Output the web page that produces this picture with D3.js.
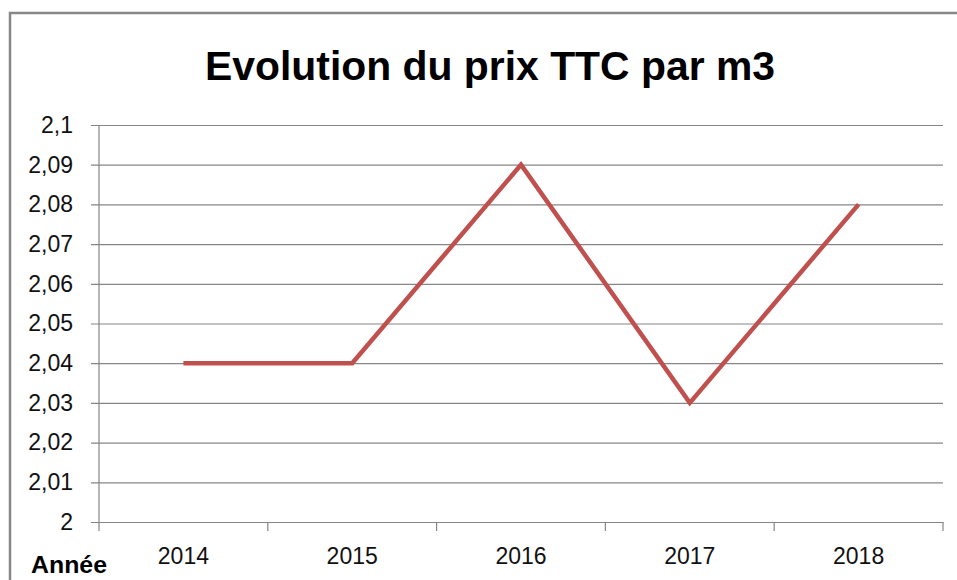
<!DOCTYPE html>
<html>
<head>
<meta charset="utf-8">
<script src="https://cdnjs.cloudflare.com/ajax/libs/d3/7.8.5/d3.min.js"></script>
<style>
  body { margin: 0; background: #fff; }
  svg { display: block; }
</style>
</head>
<body>
<script>
// data
var years = ["2014", "2015", "2016", "2017", "2018"];
var prices = [2.04, 2.04, 2.09, 2.03, 2.08];
var yTicks = [2, 2.01, 2.02, 2.03, 2.04, 2.05, 2.06, 2.07, 2.08, 2.09, 2.1];

var W = 957, H = 580;
var margin = { top: 125, right: 14, bottom: 58, left: 99 };
var width = W - margin.left - margin.right,
  height = H - margin.top - margin.bottom;

var svg = d3.select("body").append("svg")
  .attr("width", W)
  .attr("height", H);

// outer chart border (cut off on the right and bottom like the original)
svg.append("rect")
  .attr("x", 10).attr("y", 13)
  .attr("width", W + 20).attr("height", H + 20)
  .style("fill", "none")
  .style("stroke", "#878787")
  .style("stroke-width", 2.5);

// title
svg.append("text")
  .attr("x", 490).attr("y", 80)
  .attr("text-anchor", "middle")
  .attr("textLength", 570)
  .attr("lengthAdjust", "spacingAndGlyphs")
  .style("font-family", "'Liberation Sans', Arial, sans-serif")
  .style("font-weight", "bold")
  .style("font-size", "41px")
  .style("fill", "#000")
  .text("Evolution du prix TTC par m3");

var g = svg.append("g")
  .attr("transform", "translate(" + margin.left + "," + margin.top + ")");

var x = d3.scaleBand().domain(years).range([0, width]);
var y = d3.scaleLinear().domain([2, 2.1]).range([height, 0]);

var fmt = function (d) { return d3.format("~g")(d).replace(".", ","); };

// gridlines + y axis (gridlines start 8px left of the plot, as tick marks)
var yAxis = d3.axisLeft(y)
  .tickValues(yTicks)
  .tickSize(-(width + 8))
  .tickPadding(18)
  .tickFormat(fmt);

var yG = g.append("g")
  .attr("transform", "translate(-8,0)")
  .call(yAxis);
yG.select(".domain").remove();
yG.selectAll(".tick line")
  .style("stroke", "#868686")
  .style("stroke-width", 1.2);
yG.selectAll(".tick text")
  .style("font-family", "'Liberation Sans', Arial, sans-serif")
  .style("font-size", "23px")
  .style("fill", "#111");

// vertical axis line
g.append("line")
  .attr("x1", 0).attr("x2", 0)
  .attr("y1", 0).attr("y2", height)
  .style("stroke", "#868686")
  .style("stroke-width", 1.2);

// x axis with ticks between categories
var xAxis = d3.axisBottom(x).tickSize(0).tickPadding(26);
var xG = g.append("g")
  .attr("transform", "translate(0," + height + ")")
  .call(xAxis);
xG.select(".domain")
  .style("stroke", "#868686")
  .style("stroke-width", 1.2);
xG.selectAll(".tick text")
  .style("font-family", "'Liberation Sans', Arial, sans-serif")
  .style("font-size", "23px")
  .style("fill", "#111");

var bounds = years.map(function (d) { return x(d); }).concat([width]);
xG.selectAll(".sep")
  .data(bounds)
  .enter()
  .append("line")
  .attr("class", "sep")
  .attr("x1", function (d) { return d; })
  .attr("x2", function (d) { return d; })
  .attr("y1", 0).attr("y2", 9)
  .style("stroke", "#868686")
  .style("stroke-width", 1.2);

// price line
var line = d3.line()
  .x(function (d, i) { return x(years[i]) + x.bandwidth() / 2; })
  .y(function (d) { return y(d); });

g.append("path")
  .datum(prices)
  .attr("d", line)
  .style("fill", "none")
  .style("stroke", "#c0504d")
  .style("stroke-width", 4.5)
  .style("stroke-linejoin", "miter");

// axis title
svg.append("text")
  .attr("x", 31).attr("y", 573)
  .style("font-family", "'Liberation Sans', Arial, sans-serif")
  .style("font-weight", "bold")
  .style("font-size", "24px")
  .attr("textLength", 76)
  .attr("lengthAdjust", "spacingAndGlyphs")
  .style("fill", "#000")
  .text("Année");
</script>
</body>
</html>
